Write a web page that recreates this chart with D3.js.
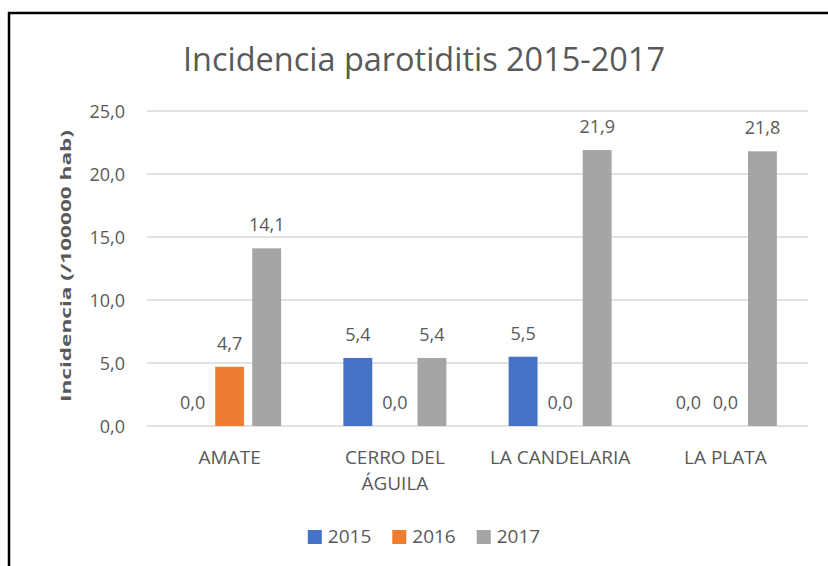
<!DOCTYPE html>
<html>
<head>
<meta charset="utf-8">
<script src="https://cdn.jsdelivr.net/npm/d3@7"></script>
<style>
  html, body { margin: 0; padding: 0; background: #fff; }
  svg { display: block; }
  text { font-family: "Open Sans", "Noto Sans", sans-serif; fill: #595959; }
</style>
</head>
<body>
<svg id="chart" width="828" height="566"></svg>
<script>
const title = "Incidencia parotiditis 2015-2017";
const yAxisTitle = "Incidencia (/100000 hab)";
const categories = ["AMATE", "CERRO DEL ÁGUILA", "LA CANDELARIA", "LA PLATA"];
const seriesNames = ["2015", "2016", "2017"];
const values2015 = [0.0, 5.4, 5.5, 0.0];
const values2016 = [4.7, 0.0, 0.0, 0.0];
const values2017 = [14.1, 5.4, 21.9, 21.8];
const yTicks = [0, 5, 10, 15, 20, 25];
const colors = ["#4472C4", "#ED7D31", "#A5A5A5"];

const seriesValues = [values2015, values2016, values2017];
const fmt = v => d3.format(".1f")(v).replace(".", ",");

const svg = d3.select("#chart");
const plot = { left: 147, right: 808, top: 111, bottom: 426 };

// frame
svg.append("rect")
  .attr("x", 9).attr("y", 13)
  .attr("width", 900).attr("height", 600)
  .attr("fill", "none").attr("stroke", "#000").attr("stroke-width", 2.5);

const x0 = d3.scaleBand().domain(categories).range([plot.left, plot.right]).paddingInner(0).paddingOuter(0);
const x1 = d3.scaleBand().domain(seriesNames).range([0, x0.bandwidth()]).paddingInner(0.22).paddingOuter(0.84);
const y = d3.scaleLinear().domain([0, 25]).range([plot.bottom, plot.top]);

// title
const t = svg.append("text")
  .attr("x", 424).attr("y", 71)
  .attr("text-anchor", "middle")
  .style("font-size", "28px")
  .text(title);
const tw = t.node().getComputedTextLength();
t.style("font-size", (28 * 482 / tw).toFixed(2) + "px");

// gridlines
svg.append("g").selectAll("line").data(yTicks).join("line")
  .attr("x1", plot.left).attr("x2", plot.right)
  .attr("y1", d => y(d)).attr("y2", d => y(d))
  .attr("stroke", "#D9D9D9").attr("stroke-width", 1.3);

// y axis labels via d3 axis
const yAxis = d3.axisLeft(y).tickValues(yTicks).tickFormat(fmt).tickSize(0).tickPadding(0);
const yg = svg.append("g").attr("transform", `translate(125,0)`).call(yAxis);
yg.select(".domain").remove();
yg.selectAll("text")
  .style("font-size", "18px")
  .style("font-family", "'Open Sans', sans-serif")
  .attr("fill", "#595959")
  .attr("dy", "0.36em");

// y axis title
svg.append("text")
  .attr("transform", "translate(71,266) rotate(-90)")
  .attr("text-anchor", "middle")
  .style("font-size", "14px")
  .style("font-weight", "bold")
  .attr("textLength", 272)
  .attr("lengthAdjust", "spacingAndGlyphs")
  .text(yAxisTitle);

// bars
const groups = svg.append("g").selectAll("g").data(categories).join("g")
  .attr("transform", d => `translate(${x0(d)},0)`);

groups.each(function(cat, ci) {
  const g = d3.select(this);
  const rows = seriesNames.map((s, si) => ({ s, si, v: seriesValues[si][ci] }));
  g.selectAll("rect").data(rows).join("rect")
    .attr("x", d => x1(d.s))
    .attr("width", x1.bandwidth())
    .attr("y", d => y(d.v))
    .attr("height", d => y(0) - y(d.v))
    .attr("fill", d => colors[d.si]);
  g.selectAll("text.lbl").data(rows).join("text")
    .attr("class", "lbl")
    .attr("x", d => x1(d.s) + x1.bandwidth() / 2)
    .attr("y", d => y(d.v) - 17)
    .attr("text-anchor", "middle")
    .style("font-size", "18px")
    .text(d => fmt(d.v));
});

// x axis category labels with wrapping
const xAxis = d3.axisBottom(x0).tickSize(0).tickPadding(0);
const xg = svg.append("g").attr("transform", `translate(0,${plot.bottom})`).call(xAxis);
xg.select(".domain").remove();
xg.selectAll("text")
  .style("font-size", "19px")
  .style("font-family", "'Open Sans', sans-serif")
  .attr("fill", "#595959")
  .attr("y", 38).attr("dy", 0)
  .each(function(d) {
    const el = d3.select(this);
    const words = d.split(" ");
    el.text(null);
    let line = [];
    let tspan = el.append("tspan").attr("x", 0).attr("y", 38);
    let lineNo = 0;
    words.forEach(w => {
      line.push(w);
      tspan.text(line.join(" "));
      if (tspan.node().getComputedTextLength() > x0.bandwidth() - 4 && line.length > 1) {
        line.pop();
        tspan.text(line.join(" "));
        line = [w];
        lineNo++;
        tspan = el.append("tspan").attr("x", 0).attr("y", 38 + lineNo * 26).text(w);
      }
    });
  });

// legend
const legendItems = seriesNames.map((s, i) => ({ s, c: colors[i] }));
const lg = svg.append("g");
const items = lg.selectAll("g").data(legendItems).join("g");
items.append("rect").attr("width", 14).attr("height", 14).attr("y", 530).attr("fill", d => d.c);
items.append("text").attr("x", 20).attr("y", 543).style("font-size", "19px").text(d => d.s);
let xpos = 0;
const gap = 21;
items.each(function() {
  const w = this.getBBox().width;
  d3.select(this).attr("transform", `translate(${xpos},0)`);
  xpos += w + gap;
});
const totalW = xpos - gap;
lg.attr("transform", `translate(${424 - totalW / 2},0)`);
</script>
</body>
</html>
